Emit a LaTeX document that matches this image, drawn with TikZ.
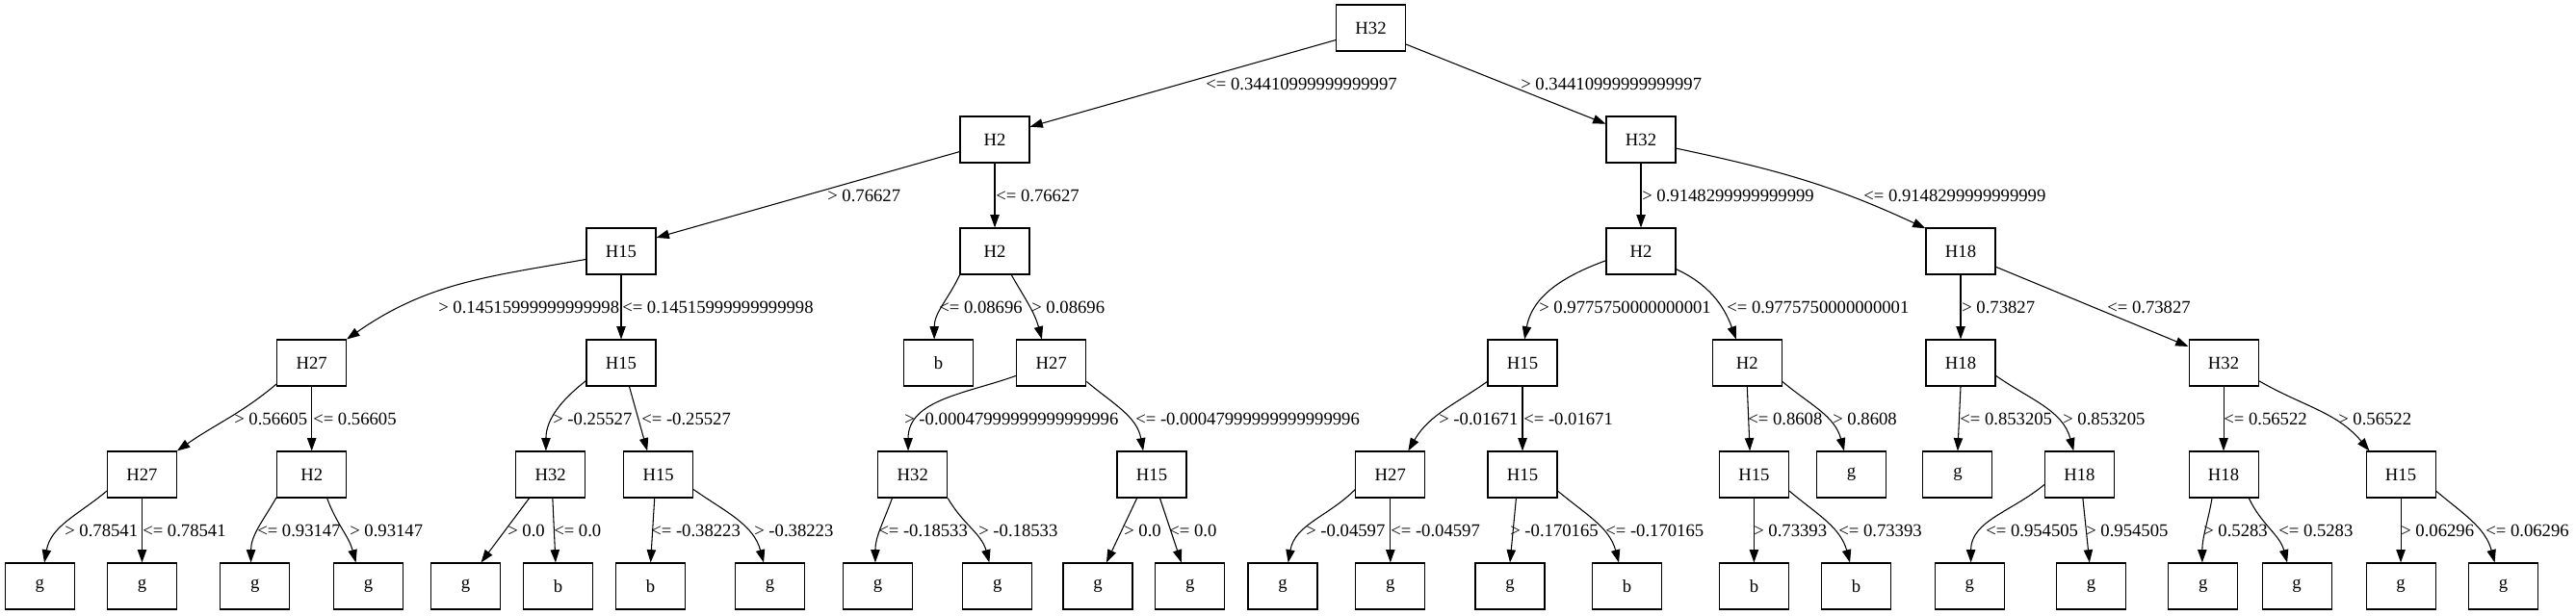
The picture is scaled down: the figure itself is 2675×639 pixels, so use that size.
\documentclass[tikz,border=0pt]{standalone}
\usepackage{fontspec}
\setmainfont{Liberation Serif}
\usetikzlibrary{arrows.meta}
\begin{document}
\begin{tikzpicture}[x=0.75pt,y=-0.75pt,
  box/.style={draw,line width=0.8pt,minimum width=54pt,minimum height=36pt,inner sep=0pt,font=\fontsize{14pt}{16pt}\selectfont},
  lab/.style={anchor=base west,inner sep=0pt,font=\fontsize{14pt}{16pt}\selectfont},
  edge/.style={line width=0.8pt,-{Triangle[length=10pt,width=7pt]}}]
\useasboundingbox (0,0) rectangle (2675,639);
% row 0
\node[box] (r0) at (1423.5,29) {H32};
% row 1
\node[box] (n1a) at (1033,145) {H2};
\node[box] (n1b) at (1704,145) {H32};
% row 2
\node[box] (n2a) at (645,261) {H15};
\node[box] (n2b) at (1033,261) {H2};
\node[box] (n2c) at (1704,261) {H2};
\node[box] (n2d) at (2036,261) {H18};
% row 3
\node[box] (n3a) at (323.7,377) {H27};
\node[box] (n3b) at (645,377) {H15};
\node[box] (n3c) at (974.5,377) {b};
\node[box] (n3d) at (1091.8,377) {H27};
\node[box] (n3e) at (1581,377) {H15};
\node[box] (n3f) at (1814.3,377) {H2};
\node[box] (n3g) at (2036,377) {H18};
\node[box] (n3h) at (2309,377) {H32};
% row 4
\node[box] (n4a) at (147.5,493) {H27};
\node[box] (n4b) at (323.7,493) {H2};
\node[box] (n4c) at (571.7,493) {H32};
\node[box] (n4d) at (683.6,493) {H15};
\node[box] (n4e) at (947.8,493) {H32};
\node[box] (n4f) at (1196,493) {H15};
\node[box] (n4g) at (1443.8,493) {H27};
\node[box] (n4h) at (1581,493) {H15};
\node[box] (n4i) at (1821.4,493) {H15};
\node[box] (n4j) at (1922.5,493) {g};
\node[box] (n4k) at (2032.9,493) {g};
\node[box] (n4l) at (2159.4,493) {H18};
\node[box] (n4m) at (2309,493) {H18};
\node[box] (n4n) at (2493,493) {H15};
% row 5
\node[box] (n5a) at (41.3,609) {g};
\node[box] (n5b) at (147.5,609) {g};
\node[box] (n5c) at (264.9,609) {g};
\node[box] (n5d) at (382.6,609) {g};
\node[box] (n5e) at (483.6,609) {g};
\node[box] (n5f) at (579.5,609) {b};
\node[box] (n5g) at (675.6,609) {b};
\node[box] (n5h) at (799.6,609) {g};
\node[box] (n5i) at (911.5,609) {g};
\node[box] (n5j) at (1035.8,609) {g};
\node[box] (n5k) at (1140,609) {g};
\node[box] (n5l) at (1235.7,609) {g};
\node[box] (n5m) at (1332,609) {g};
\node[box] (n5n) at (1443.8,609) {g};
\node[box] (n5o) at (1568,609) {g};
\node[box] (n5p) at (1689.5,609) {b};
\node[box] (n5q) at (1821.4,609) {b};
\node[box] (n5r) at (1927.6,609) {b};
\node[box] (n5s) at (2045.3,609) {g};
\node[box] (n5t) at (2171.5,609) {g};
\node[box] (n5u) at (2287.7,609) {g};
\node[box] (n5v) at (2385,609) {g};
\node[box] (n5w) at (2493,609) {g};
\node[box] (n5x) at (2599.5,609) {g};
% edges level 0-1
\draw[edge] (r0.199) -- (n1a.20);
\node[lab] (l1) at (1252,93) {<= 0.34410999999999997};
\draw[edge] (r0.-25) -- (n1b.156);
\node[lab] (l2) at (1579,93) {> 0.34410999999999997};
% level 1-2
\draw[edge] (n1a.199) -- (n2a.21);
\node[lab] (l3) at (859,209) {> 0.76627};
\draw[edge] (n1a) -- (n2b);
\node[lab] (l4) at (1034,209) {<= 0.76627};
\draw[edge] (n1b) -- (n2c);
\node[lab] (l5) at (1705,209) {> 0.9148299999999999};
\draw[edge] (n1b.-14) to[out=-12,in=155] (n2d.147);
\node[lab] (l6) at (1935,209) {<= 0.9148299999999999};
% level 2-3
\draw[edge] (n2a.193) to[out=190,in=35] (n3a.34);
\node[lab] (l7) at (455,325) {> 0.14515999999999998};
\draw[edge] (n2a) -- (n3b);
\node[lab] (l8) at (646,325) {<= 0.14515999999999998};
\draw[edge] (n2b.214) to[out=-115,in=90] (n3c.100);
\node[lab] (l9) at (975,325) {<= 0.08696};
\draw[edge] (n2b.-55) to[out=-60,in=105] (n3d.112);
\node[lab] (l10) at (1071,325) {> 0.08696};
\draw[edge] (n2c.195) to[out=200,in=80] (n3e.85);
\node[lab] (l11) at (1598,325) {> 0.9775750000000001};
\draw[edge] (n2c.-27) to[out=-25,in=110] (n3f.115);
\node[lab] (l12) at (1793,325) {<= 0.9775750000000001};
\draw[edge] (n2d) -- (n3g);
\node[lab] (l13) at (2037,325) {> 0.73827};
\draw[edge] (n2d.-24) -- (n3h.155);
\node[lab] (l14) at (2188,325) {<= 0.73827};
% level 3-4
\draw[edge] (n3a.211) to[out=220,in=35] (n4a.34);
\node[lab] (l15) at (243,441) {> 0.56605};
\draw[edge] (n3a) -- (n4b);
\node[lab] (l16) at (325,441) {<= 0.56605};
\draw[edge] (n3b.207) to[out=218,in=90] (n4c.101);
\node[lab] (l17) at (574,441) {> -0.25527};
\draw[edge] (n3b.-71) -- (n4d.115);
\node[lab] (l18) at (666,441) {<= -0.25527};
\draw[edge] (n3d.200) to[out=200,in=90] (n4e.101);
\node[lab] (l19) at (939,441) {> -0.00047999999999999996};
\draw[edge] (n3d.-28) to[out=-40,in=100] (n4f.110);
\node[lab] (l20) at (1179,441) {<= -0.00047999999999999996};
\draw[edge] (n3e.208) to[out=215,in=60] (n4g.53);
\node[lab] (l21) at (1494,441) {> -0.01671};
\draw[edge] (n3e) -- (n4h);
\node[lab] (l22) at (1582,441) {<= -0.01671};
\draw[edge] (n3f.-90) -- (n4i.100);
\node[lab] (l23) at (1815,441) {<= 0.8608};
\draw[edge] (n3f.-28) to[out=-40,in=105] (n4j.107);
\node[lab] (l24) at (1903,441) {> 0.8608};
\draw[edge] (n3g.south) -- (n4k.north);
\node[lab] (l25) at (2035,441) {<= 0.853205};
\draw[edge] (n3g.-20) to[out=-35,in=105] (n4l.104);
\node[lab] (l26) at (2142,441) {> 0.853205};
\draw[edge] (n3h) -- (n4m);
\node[lab] (l27) at (2309,441) {<= 0.56522};
\draw[edge] (n3h.-27) to[out=-30,in=130] (n4n.143);
\node[lab] (l28) at (2428,441) {> 0.56522};
% level 4-5
\draw[edge] (n4a.205) to[out=220,in=80] (n5a.79);
\node[lab] (l29) at (67,557) {> 0.78541};
\draw[edge] (n4a) -- (n5b);
\node[lab] (l30) at (148,557) {<= 0.78541};
\draw[edge] (n4b.213) to[out=-120,in=90] (n5c.100);
\node[lab] (l31) at (267,557) {<= 0.93147};
\draw[edge] (n4b.-57) to[out=-70,in=105] (n5d.118);
\node[lab] (l32) at (363,557) {> 0.93147};
\draw[edge] (n4c.228) -- (n5e.57);
\node[lab] (l33) at (527,557) {> 0.0};
\draw[edge] (n4c.-85) -- (n5f.96);
\node[lab] (l34) at (575,557) {<= 0.0};
\draw[edge] (n4d.-99) -- (n5g.north);
\node[lab] (l35) at (676,557) {<= -0.38223};
\draw[edge] (n4d.-23) to[out=-35,in=105] (n5h.105);
\node[lab] (l36) at (783,557) {> -0.38223};
\draw[edge] (n4e.229) to[out=-110,in=90] (n5i.96);
\node[lab] (l37) at (912,557) {<= -0.18533};
\draw[edge] (n4e.-34) to[out=-60,in=105] (n5j.109);
\node[lab] (l38) at (1016,557) {> -0.18533};
\draw[edge] (n4f.238) -- (n5k.70);
\node[lab] (l39) at (1167,557) {> 0.0};
\draw[edge] (n4f.-71) -- (n5l.110);
\node[lab] (l40) at (1214,557) {<= 0.0};
\draw[edge] (n4g.203) to[out=225,in=80] (n5m.77);
\node[lab] (l41) at (1356,557) {> -0.04597};
\draw[edge] (n4g) -- (n5n);
\node[lab] (l42) at (1444,557) {<= -0.04597};
\draw[edge] (n4h.-105) -- (n5o.north);
\node[lab] (l43) at (1568,557) {> -0.170165};
\draw[edge] (n4h.-25) to[out=-40,in=105] (n5p.109);
\node[lab] (l44) at (1667,557) {<= -0.170165};
\draw[edge] (n4i) -- (n5q);
\node[lab] (l45) at (1821,557) {> 0.73393};
\draw[edge] (n4i.-25) to[out=-40,in=105] (n5r.105);
\node[lab] (l46) at (1909,557) {<= 0.73393};
\draw[edge] (n4l.196) to[out=220,in=90] (n5s.87);
\node[lab] (l47) at (2062,557) {<= 0.954505};
\draw[edge] (n4l.-82) -- (n5t.94);
\node[lab] (l48) at (2166,557) {> 0.954505};
\draw[edge] (n4m.244) to[out=-100,in=90] (n5u.92);
\node[lab] (l49) at (2288,557) {> 0.5283};
\draw[edge] (n4m.-43) to[out=-65,in=105] (n5v.112);
\node[lab] (l50) at (2366,557) {<= 0.5283};
\draw[edge] (n4n) -- (n5w);
\node[lab] (l51) at (2493,557) {> 0.06296};
\draw[edge] (n4n.-25) to[out=-40,in=105] (n5x.110);
\node[lab] (l52) at (2581,557) {<= 0.06296};
\end{tikzpicture}
\end{document}
